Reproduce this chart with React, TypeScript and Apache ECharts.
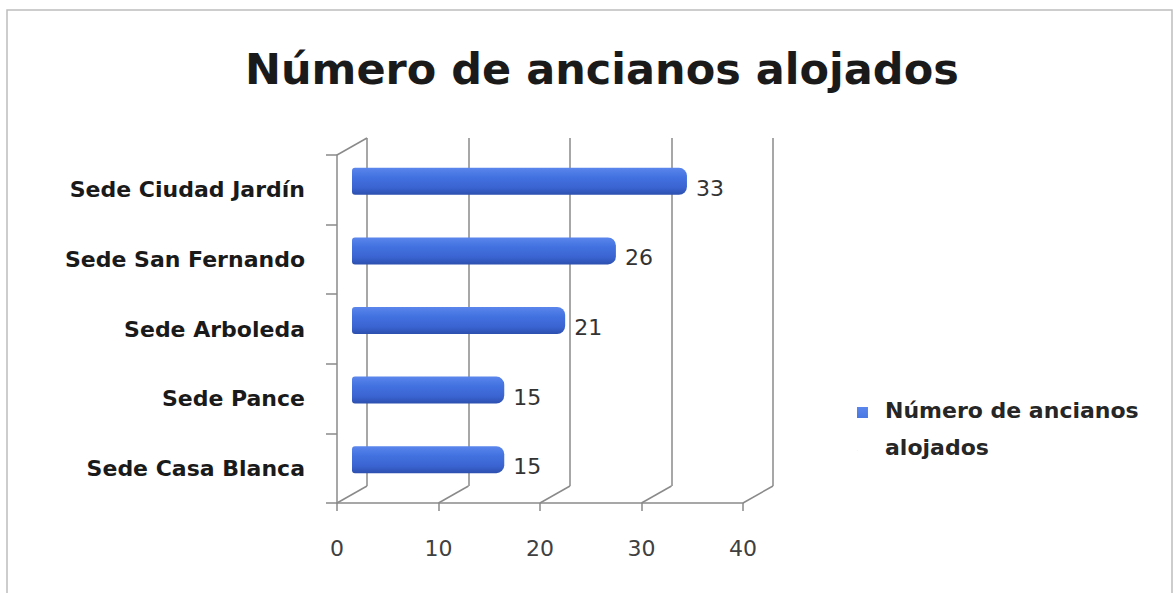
import React, { useEffect, useRef } from "react";
import * as echarts from "echarts";

const categories = ["Sede Ciudad Jardín", "Sede San Fernando", "Sede Arboleda", "Sede Pance", "Sede Casa Blanca"];
const values = [33, 26, 21, 15, 15];
const xTicks = [0, 10, 20, 30, 40];
const seriesName = "Número de ancianos alojados";
const titleText = "Número de ancianos alojados";

const FONT = "'DejaVu Sans', 'Open Sans', sans-serif";
const FRONT = { left: 337, top: 155, width: 406, height: 348 };
const DX = 30;
const DY = -17;
const GRID_COLOR = "#8a8a8a";

export default function App() {
  const ref = useRef<HTMLDivElement>(null);
  useEffect(() => {
    if (!ref.current) return;
    const chart = echarts.init(ref.current, null, { renderer: "svg" });
    const back = { left: FRONT.left + DX, top: FRONT.top + DY, width: FRONT.width, height: FRONT.height };
    const mid = { left: FRONT.left + DX / 2, top: FRONT.top + DY / 2, width: FRONT.width, height: FRONT.height };
    const xmin = xTicks[0];
    const xmax = xTicks[xTicks.length - 1];
    const floorY = FRONT.top + FRONT.height;
    const graphics: any[] = [
      {
        type: "rect",
        shape: { x: 7, y: 10, width: 1165, height: 600 },
        style: { fill: "none", stroke: "#bdbdbd", lineWidth: 1.5 },
        silent: true,
      },
      {
        type: "line",
        shape: { x1: FRONT.left, y1: FRONT.top, x2: FRONT.left + DX, y2: FRONT.top + DY },
        style: { stroke: GRID_COLOR, lineWidth: 1.5 },
        silent: true,
      },
    ];
    xTicks.forEach((t) => {
      const x = FRONT.left + ((t - xmin) / (xmax - xmin)) * FRONT.width;
      graphics.push({
        type: "line",
        shape: { x1: x, y1: floorY, x2: x + DX, y2: floorY + DY },
        style: { stroke: GRID_COLOR, lineWidth: 1.5 },
        silent: true,
      });
    });

    chart.setOption({
      animation: false,
      backgroundColor: "#ffffff",
      title: {
        text: titleText,
        left: 240,
        top: 42,
        textStyle: { fontFamily: FONT, fontWeight: "bold", fontSize: 43, color: "#1a1a1a" },
      },
      legend: {
        left: 857,
        top: 392,
        padding: 0,
        orient: "vertical",
        icon: "path://M0 0H11V11H0Z M0 43H0.05V44H0Z M23 0H23.05V0.05H23Z",
        itemWidth: 23,
        itemHeight: 44,
        itemGap: 8,
        data: [seriesName],
        formatter: () => "Número de ancianos\nalojados",
        textStyle: { fontFamily: FONT, fontWeight: "bold", fontSize: 22, color: "#262626", lineHeight: 37 },
      },
      grid: [
        { ...back, containLabel: false },
        { ...FRONT, containLabel: false },
        { ...mid, containLabel: false },
      ],
      xAxis: [
        {
          gridIndex: 0, type: "value", min: xmin, max: xmax, interval: 10,
          axisLine: { show: false }, axisTick: { show: false }, axisLabel: { show: false },
          splitLine: { show: true, lineStyle: { color: GRID_COLOR, width: 1.5 } },
        },
        {
          gridIndex: 1, type: "value", min: xmin, max: xmax, interval: 10,
          axisLine: { show: true, lineStyle: { color: GRID_COLOR, width: 1.5 } },
          axisTick: { show: true, length: 8, lineStyle: { color: GRID_COLOR, width: 1.5 } },
          axisLabel: { show: true, margin: 34, fontFamily: FONT, fontSize: 22, color: "#404040" },
          splitLine: { show: false },
        },
        {
          gridIndex: 2, type: "value", min: xmin, max: xmax, interval: 10, show: false,
          splitLine: { show: false },
        },
      ],
      yAxis: [
        { gridIndex: 0, type: "category", data: categories, inverse: true, show: false },
        {
          gridIndex: 1, type: "category", data: categories, inverse: true,
          axisLine: { show: true, lineStyle: { color: GRID_COLOR, width: 1.5 } },
          axisTick: { show: true, length: 11, lineStyle: { color: GRID_COLOR, width: 1.5 } },
          axisLabel: { margin: 32, fontFamily: FONT, fontWeight: "bold", fontSize: 22, color: "#1a1a1a" },
          splitLine: { show: false },
        },
        { gridIndex: 2, type: "category", data: categories, inverse: true, show: false },
      ],
      series: [
        {
          name: seriesName,
          type: "bar",
          xAxisIndex: 2,
          yAxisIndex: 2,
          data: values,
          barWidth: 27,
          itemStyle: {
            color: new echarts.graphic.LinearGradient(0, 0, 0, 1, [
              { offset: 0, color: "#5a86ec" },
              { offset: 0.35, color: "#4272e0" },
              { offset: 0.75, color: "#3a63d0" },
              { offset: 1, color: "#2c4fae" },
            ]),
            borderRadius: [3, 8, 8, 3],
          },
          label: {
            show: true,
            position: "right",
            distance: 9,
            offset: [0, 7],
            fontFamily: FONT,
            fontSize: 22,
            color: "#333333",
          },
        },
      ],
      graphic: graphics,
    });
    return () => chart.dispose();
  }, []);
  return (
    <div
      ref={ref}
      style={{ position: "absolute", left: 0, top: 0, width: 1174, height: 593, background: "#fff" }}
    />
  );
}
